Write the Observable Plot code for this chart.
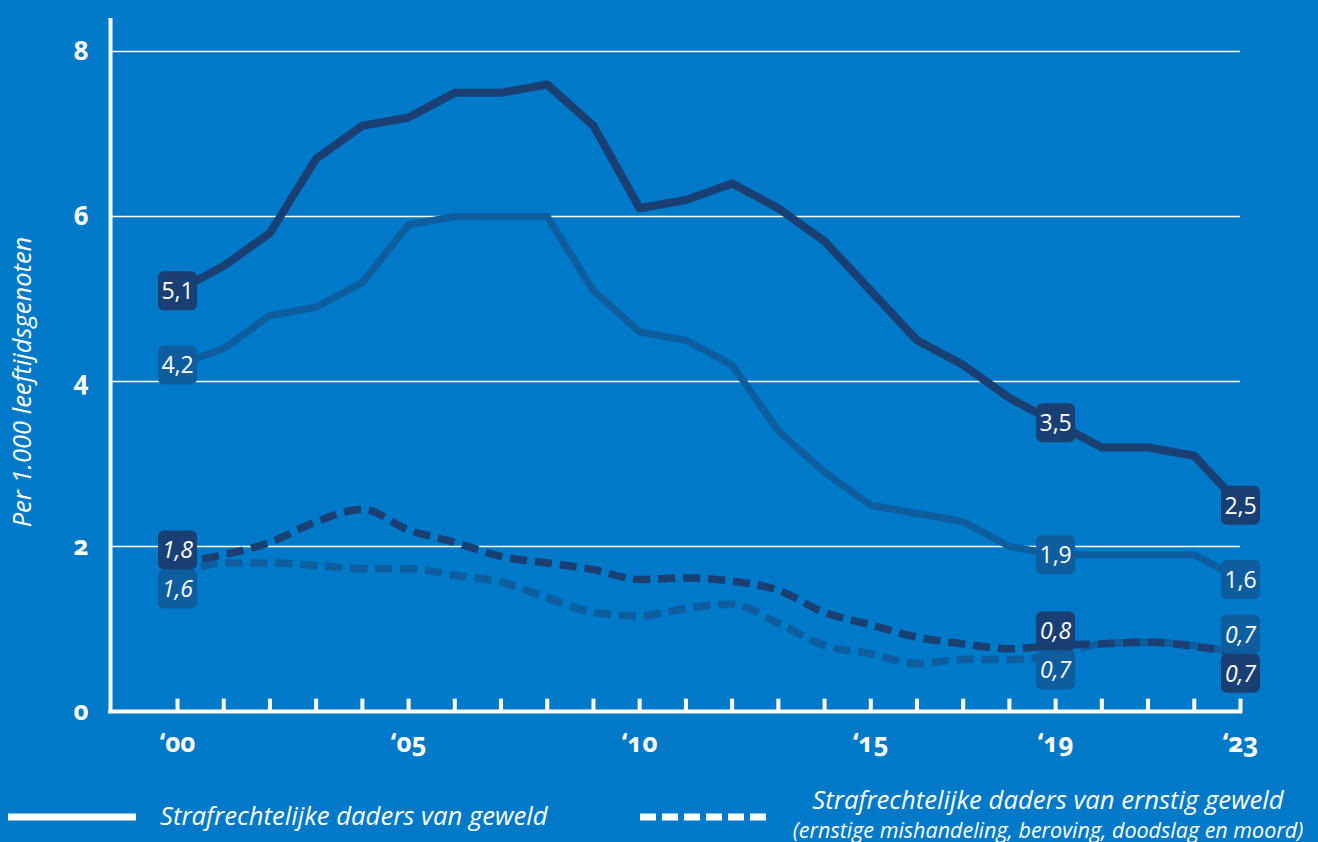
<!DOCTYPE html>
<html><head><meta charset="utf-8">
<script src="https://cdn.jsdelivr.net/npm/d3@7"></script>
<script src="https://cdn.jsdelivr.net/npm/@observablehq/plot@0.6"></script>
<style>
html,body{margin:0;padding:0;background:#0079C8;width:1318px;height:842px;overflow:hidden;position:relative;}
#chart{position:absolute;left:0;top:0;}
#chart svg g[aria-label="x-axis tick label"] text, #chart svg g[aria-label="y-axis tick label"] text{font-variant-numeric:oldstyle-nums;font-feature-settings:"onum" 1;}
.leg{position:absolute;color:#fff;font-family:"Open Sans",sans-serif;font-style:italic;white-space:nowrap;}
</style></head><body>
<div id="chart"></div>
<div id="legend">
  <svg class="leg" style="left:0;top:805px" width="140" height="24"><line x1="8" x2="136" y1="12" y2="12" stroke="#fff" stroke-width="7"/></svg>
  <div class="leg" id="l1" style="left:160px;top:798px;font-size:25.7px;line-height:36px;">Strafrechtelijke daders van geweld</div>
  <svg class="leg" style="left:636px;top:805px" width="134" height="24"><line x1="4" x2="130" y1="12" y2="12" stroke="#fff" stroke-width="7" stroke-dasharray="16 6"/></svg>
  <div class="leg" id="l2" style="left:790px;width:516px;text-align:center;top:782px;font-size:25.7px;line-height:36px;">Strafrechtelijke daders van ernstig geweld</div>
  <div class="leg" id="l3" style="left:770px;width:556px;text-align:center;top:818px;font-size:21.5px;line-height:23px;">(ernstige mishandeling, beroving, doodslag en moord)</div>
</div>
<script>
// ---- data ----
const years = [2000,2001,2002,2003,2004,2005,2006,2007,2008,2009,2010,2011,2012,2013,2014,2015,2016,2017,2018,2019,2020,2021,2022,2023];
const gewelddonker  = [5.1,5.4,5.8,6.7,7.1,7.2,7.5,7.5,7.6,7.1,6.1,6.2,6.4,6.1,5.7,5.1,4.5,4.2,3.8,3.5,3.2,3.2,3.1,2.5];
const geweldlicht   = [4.2,4.4,4.8,4.9,5.2,5.9,6.0,6.0,6.0,5.1,4.6,4.5,4.2,3.4,2.9,2.5,2.4,2.3,2.0,1.9,1.9,1.9,1.9,1.6];
const ernstigdonker = [1.8,1.9,2.05,2.3,2.45,2.2,2.05,1.88,1.8,1.72,1.6,1.62,1.58,1.47,1.2,1.05,0.9,0.82,0.76,0.8,0.82,0.84,0.79,0.7];
const ernstiglicht  = [1.64,1.8,1.8,1.77,1.73,1.73,1.65,1.57,1.38,1.2,1.16,1.25,1.3,1.07,0.8,0.7,0.58,0.63,0.63,0.68,0.82,0.84,0.8,0.7];
const labelYears = [2000, 2019, 2023];
const yTicks = [0, 2, 4, 6, 8];
const gridValues = [2, 4, 6, 8];
const xTickYears = [2000, 2005, 2010, 2015, 2019, 2023];
const yTitle = "Per 1.000 leeftijdsgenoten";

const series = [
  {key: "geweldlicht", values: geweldlicht, kind: "solid", tone: "licht"},
  {key: "gewelddonker", values: gewelddonker, kind: "solid", tone: "donker"},
  {key: "ernstiglicht", values: ernstiglicht, kind: "dashed", tone: "licht"},
  {key: "ernstigdonker", values: ernstigdonker, kind: "dashed", tone: "donker"}
];
const rows = series.flatMap(s => years.map((yr, i) => ({series: s.key, kind: s.kind, tone: s.tone, year: yr, value: s.values[i]})));

// ---- styling ----
const DARK = "#193F73", MID = "#0D5D9F";
const toneColor = t => t === "donker" ? DARK : MID;
const xMin = 1998.55, xMax = 2023, yMax = 8.4;

// labels
const labels = series.flatMap(s => labelYears.map(yr => {
  const i = years.indexOf(yr);
  let y = s.values[i], dy = 0;
  if (s.kind === "dashed") {
    y = (ernstigdonker[i] + ernstiglicht[i]) / 2;
    const darkAbove = yr !== 2023;
    const above = (s.tone === "donker") === darkAbove;
    dy = above ? -19.5 : 19.5;
  }
  return {year: yr, y, dy, tone: s.tone, kind: s.kind, text: s.values[i].toFixed(1).replace(".", ",")};
}));

const roundSquare = {
  draw(ctx, size) {
    const h = Math.sqrt(size / Math.PI), c = 6;
    ctx.moveTo(-h + c, -h); ctx.lineTo(h - c, -h); ctx.arcTo(h, -h, h, -h + c, c);
    ctx.lineTo(h, h - c); ctx.arcTo(h, h, h - c, h, c);
    ctx.lineTo(-h + c, h); ctx.arcTo(-h, h, -h, h - c, c);
    ctx.lineTo(-h, -h + c); ctx.arcTo(-h, -h, -h + c, -h, c); ctx.closePath();
  }
};

const boxMarks = labels.map(l => Plot.dot([l], {x: "year", y: "y", dy: l.dy, r: 19.5, symbol: roundSquare, fill: toneColor(l.tone), stroke: "none"}));
const textMarks = labels.map(l => Plot.text([l], {x: "year", y: "y", dy: l.dy + 1, text: "text", fill: "#fff", fontSize: 23, fontStyle: l.kind === "dashed" ? "italic" : "normal", fontFamily: "Open Sans"}));

const chart = Plot.plot({
  width: 1318, height: 770,
  marginLeft: 110, marginRight: 78, marginTop: 18, marginBottom: 59,
  style: {background: "transparent", color: "#fff", fontFamily: "Open Sans", overflow: "visible"},
  x: {domain: [xMin, xMax]},
  y: {domain: [0, yMax]},
  marks: [
    Plot.ruleY(gridValues, {x1: xMin, x2: xMax, stroke: "#fff", strokeWidth: 1.5}),
    ...series.map(s => Plot.line(rows.filter(r => r.series === s.key), {
      x: "year", y: "value", stroke: toneColor(s.tone),
      strokeWidth: s.kind === "solid" ? (s.tone === "donker" ? 8 : 7) : 7.5,
      strokeDasharray: s.kind === "dashed" ? "17 8" : null,
      curve: s.kind === "dashed" ? "monotone-x" : "linear",
      strokeLinejoin: "round", strokeLinecap: "butt"
    })),
    Plot.ruleX(years, {x: d => d, y1: 0, y2: 0.15, stroke: "#fff", strokeWidth: 4}),
    Plot.ruleX([xMin], {y1: 0, y2: yMax, stroke: "#fff", strokeWidth: 4}),
    Plot.ruleY([0], {x1: xMin - 0.04, x2: xMax + 0.05, stroke: "#fff", strokeWidth: 4}),
    Plot.axisY({ticks: yTicks, tickSize: 0, tickPadding: 22, fontSize: 26, fontWeight: "bold", label: null}),
    Plot.axisX({ticks: xTickYears, tickSize: 0, tickPadding: 22, fontSize: 26, fontWeight: "bold", label: null,
      tickFormat: d => "\u2018" + String(d).slice(2)}),
    Plot.text([yTitle], {frameAnchor: "left", dx: -88, dy: 17, rotate: -90, textAnchor: "middle", fill: "#fff", fontSize: 25.5, fontStyle: "italic", fontFamily: "Open Sans"}),
    ...boxMarks,
    ...textMarks
  ]
});
document.getElementById("chart").appendChild(chart);
</script>
</body></html>
